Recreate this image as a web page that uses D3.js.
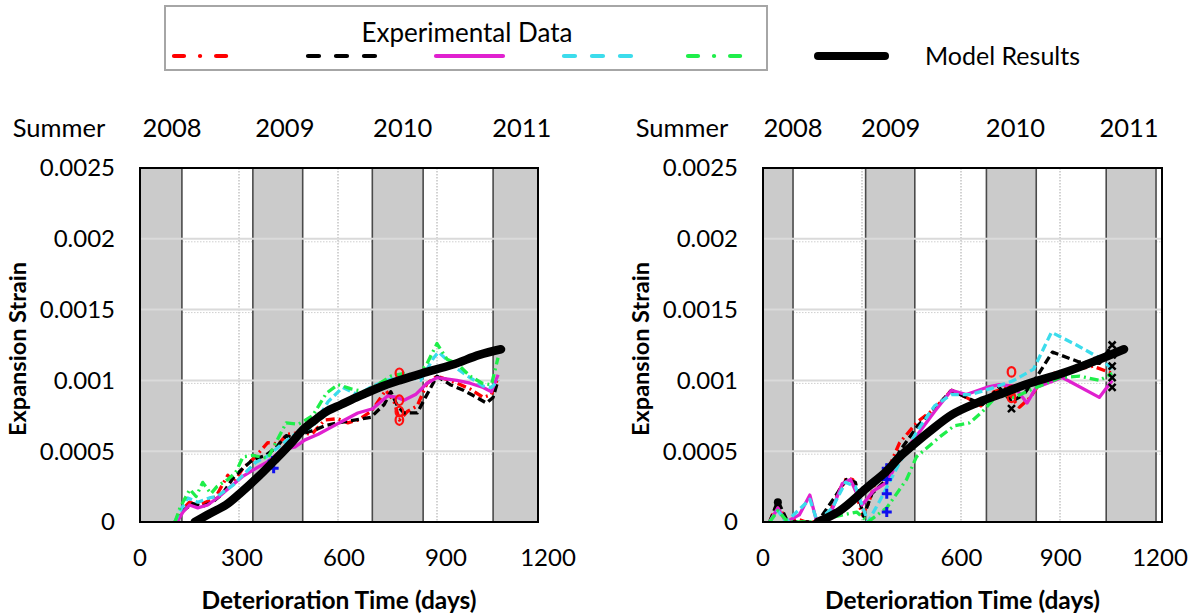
<!DOCTYPE html>
<html><head><meta charset="utf-8">
<script src="https://cdn.jsdelivr.net/npm/d3@7"></script>
<style>
body{margin:0;background:#fff}
svg{display:block}
text{font-family:Lato,"Open Sans",sans-serif;fill:#000}
</style>
</head><body>
<svg id="c" width="1199" height="615"></svg>
<script>
// ---------------- DATA ----------------
const xTicks = [0, 300, 600, 900, 1200];
const yTicks = [0, 0.0005, 0.001, 0.0015, 0.002, 0.0025];
const yTickLabels = ["0", "0.0005", "0.001", "0.0015", "0.002", "0.0025"];
const gridDays = [300, 600, 900];
const yearLabels = ["2008", "2009", "2010", "2011"];
const leftYearDays = [97, 439, 796, 1157];
const rightYearDays = [91, 387, 765, 1109];
const leftSummerBands = [[0, 127], [342, 493], [704, 858], [1070, 1206]];
const rightSummerBands = [[0, 91], [311, 460], [677, 828], [1040, 1191]];
const seriesKeys = ["red", "black", "magenta", "cyan", "green"];
const legendTitle = "Experimental Data";
const modelLabel = "Model Results";

// Left panel experimental series: [day, strain]
const leftRed = [[105,0],[125,0.00008],[150,0.00014],[175,0.00012],[200,0.00014],[230,0.00018],[266,0.00033],[285,0.00028],[312,0.00038],[345,0.00045],[387,0.00056],[420,0.00055],[445,0.00062],[480,0.00063],[520,0.00062],[560,0.00072],[600,0.00073],[630,0.0007],[660,0.00072],[700,0.00078],[745,0.00093],[770,0.00085],[786,0.00072],[810,0.00078],[840,0.00082],[870,0.00098],[900,0.00103],[950,0.00099],[1000,0.00094],[1040,0.00088],[1065,0.0009],[1085,0.00102]];
const leftBlack = [[110,0],[130,0.00008],[160,0.00013],[190,0.00011],[220,0.00014],[250,0.0002],[282,0.00031],[312,0.00038],[342,0.00044],[380,0.00047],[410,0.00052],[443,0.00061],[470,0.00059],[500,0.00063],[530,0.00065],[560,0.00068],[600,0.0007],[650,0.00072],[700,0.00074],[740,0.00083],[760,0.00092],[780,0.00082],[800,0.00077],[840,0.00077],[865,0.00088],[900,0.00103],[940,0.00097],[980,0.00093],[1020,0.00088],[1050,0.00084],[1070,0.00088],[1085,0.001]];
const leftMagenta = [[112,0],[130,0.00007],[150,0.00012],[175,0.0001],[205,0.00012],[240,0.00018],[275,0.00025],[310,0.00032],[345,0.00037],[390,0.00043],[430,0.00051],[470,0.00053],[500,0.00058],[540,0.00062],[580,0.00067],[620,0.00072],[660,0.00077],[705,0.0008],[750,0.00089],[780,0.00088],[800,0.00086],[835,0.0009],[870,0.00098],[900,0.00102],[960,0.001],[1000,0.00098],[1040,0.00095],[1065,0.00092],[1085,0.00104]];
const leftCyan = [[105,0],[122,0.00008],[145,0.00017],[175,0.00014],[210,0.00017],[233,0.00018],[282,0.00026],[320,0.00035],[350,0.00042],[390,0.00047],[430,0.00055],[470,0.00062],[523,0.00067],[570,0.00085],[614,0.00095],[660,0.0009],[705,0.00096],[750,0.001],[800,0.00104],[850,0.001],[890,0.00116],[905,0.0012],[950,0.0011],[1000,0.00102],[1040,0.00096],[1065,0.00095],[1085,0.001]];
const leftGreen = [[106,0],[121,0.0001],[151,0.00023],[170,0.00018],[190,0.00028],[215,0.0002],[233,0.00025],[266,0.0003],[290,0.00035],[312,0.00046],[342,0.00047],[387,0.00045],[443,0.0007],[480,0.00069],[523,0.00075],[565,0.00091],[600,0.00097],[640,0.00094],[680,0.00092],[720,0.00097],[760,0.00103],[800,0.00105],[840,0.00103],[870,0.00112],[900,0.00126],[930,0.00115],[960,0.00112],[1000,0.00103],[1037,0.00098],[1065,0.00097],[1085,0.00116]];
const leftModel = [[166,0],[212,0.00006],[260,0.00012],[302,0.0002],[363,0.00033],[414,0.00045],[463,0.00057],[493,0.00065],[530,0.00072],[565,0.00078],[610,0.00083],[656,0.00088],[725,0.00095],[786,0.001],[855,0.00105],[946,0.00111],[1028,0.00118],[1094,0.00122]];

// Right panel experimental series
const rightRed = [[20,0],[45,0.00014],[70,0],[105,0.00002],[130,0],[165,0],[200,0.00005],[230,0.00022],[253,0.00031],[272,0.0003],[300,0.00005],[318,0.00012],[340,0.00028],[375,0.00035],[414,0.00056],[469,0.00071],[520,0.0008],[571,0.00093],[616,0.00088],[660,0.00082],[700,0.00092],[740,0.00095],[753,0.00088],[777,0.00081],[810,0.00088],[850,0.00102],[880,0.00105],[950,0.00108],[1000,0.0011],[1058,0.00105]];
const rightBlack = [[20,0],[45,0.00015],[75,0],[130,0],[165,0],[210,0.00015],[253,0.0003],[280,0.00028],[305,0.00004],[330,0.0002],[375,0.0003],[414,0.0005],[469,0.00068],[520,0.0008],[571,0.00093],[616,0.00088],[665,0.00083],[716,0.00095],[753,0.00085],[790,0.0009],[828,0.00102],[877,0.0012],[958,0.00113],[1020,0.00112],[1058,0.00125]];
const rightMagenta = [[20,0],[45,0.0001],[70,0],[110,0.00005],[142,0.00019],[163,0],[200,0.00003],[240,0.00027],[265,0.0003],[300,0.00012],[335,0.00022],[375,0.00028],[414,0.00045],[469,0.00062],[520,0.00078],[571,0.00093],[616,0.0009],[677,0.00095],[716,0.00097],[760,0.00096],[800,0.00084],[828,0.00095],[907,0.00102],[1019,0.00088],[1058,0.001]];
const rightCyan = [[20,0],[45,0.00008],[70,0],[142,0.00016],[165,0],[210,0.0001],[250,0.00028],[280,0.00025],[318,0],[354,0.00015],[414,0.00042],[469,0.00065],[520,0.00082],[571,0.0009],[630,0.0009],[700,0.00095],[760,0.001],[820,0.00108],[874,0.00134],[950,0.00125],[1019,0.00116],[1058,0.00108]];
const rightGreen = [[20,0],[45,0.00008],[75,0],[150,0],[242,0.00005],[284,0.00007],[318,0],[375,0.0001],[435,0.0003],[465,0.00046],[535,0.0006],[580,0.00068],[626,0.0007],[665,0.00078],[716,0.00091],[760,0.00088],[828,0.00095],[900,0.00102],[960,0.00103],[1020,0.001],[1058,0.00105]];
const rightModel = [[166,0],[233,0.00008],[314,0.00024],[375,0.00036],[414,0.00046],[453,0.00054],[505,0.00064],[574,0.00076],[647,0.00084],[716,0.0009],[807,0.00098],[907,0.00105],[1010,0.00114],[1094,0.00122]];

// markers
const leftCircles = [[786,0.00105],[786,0.00086],[786,0.00078],[786,0.00072]];
const leftPluses = [[405,0.00038],[402,0.00043]];
const rightCircles = [[753,0.00106],[753,0.00093],[753,0.00088]];
const rightPluses = [[375,0.00038],[375,0.0003],[375,0.0002],[375,0.00007]];
const rightCrosses = [[753,0.0008],[1058,0.00125],[1058,0.00118],[1058,0.0011],[1058,0.00102],[1058,0.00095]];
const rightDots = [[45,0.00014]];

// ---------------- STYLE / LAYOUT ----------------
const styles = {
  red:     {color:"#ff0000", dash:"9,4,2,4", legendDash:"10,16,0.1,16", legendX:207},
  black:   {color:"#000000", dash:"8,4",     legendDash:"11,17",        legendX:341},
  magenta: {color:"#e021cf", dash:null,      legendDash:null,           legendX:469},
  cyan:    {color:"#3cdcec", dash:"8,4",     legendDash:"11,17",        legendX:597},
  green:   {color:"#1fee4a", dash:"9,4,2,4", legendDash:"10,16,0.1,16", legendX:721}
};

const svg = d3.select("#c");
const T = 168, B = 522;

function panel(opts){
  const {L, R, labelR, id, series, model, bands, yearDays, circles, pluses, crosses, dots} = opts;
  const x = d3.scaleLinear().domain([0,1200]).range([L, L+396]);
  const xl = d3.scaleLinear().domain([0,1200]).range([L, labelR]);
  const y = d3.scaleLinear().domain([0,0.0025]).range([B, T]);
  const g = svg.append("g");
  g.append("defs").append("clipPath").attr("id", id)
    .append("rect").attr("x", L).attr("y", T).attr("width", R-L).attr("height", B-T);

  g.append("rect").attr("x",L).attr("y",T).attr("width",R-L).attr("height",B-T).attr("fill","#fff");
  g.selectAll(".vd").data(gridDays).join("line")
    .attr("x1",d=>x(d)).attr("x2",d=>x(d)).attr("y1",T).attr("y2",B)
    .attr("stroke","#c4c4c4").attr("stroke-width",1.5).attr("stroke-dasharray","1.5,1.5");
  g.selectAll(".hd").data(yTicks.slice(1,5)).join("line")
    .attr("x1",L).attr("x2",R).attr("y1",d=>y(d)+3).attr("y2",d=>y(d)+3)
    .attr("stroke","#cfcfcf").attr("stroke-width",1).attr("stroke-dasharray","1.5,1.5");
  const bg = g.append("g").attr("clip-path",`url(#${id})`);
  bg.selectAll("rect").data(bands).join("rect")
    .attr("x",d=>x(d[0])).attr("width",d=>Math.min(x(d[1]),R)-x(d[0]))
    .attr("y",T).attr("height",B-T).attr("fill","#cbcbcb");
  g.selectAll(".hg").data(yTicks.slice(1,5)).join("line")
    .attr("x1",L).attr("x2",R).attr("y1",d=>y(d)).attr("y2",d=>y(d))
    .attr("stroke","#dadada").attr("stroke-width",2);
  const edges = [];
  bands.forEach(b=>{ edges.push(b[0]); edges.push(b[1]); });
  bg.selectAll("line").data(edges.filter(e=>x(e)>L+1 && x(e)<R-1)).join("line")
    .attr("x1",d=>x(d)).attr("x2",d=>x(d)).attr("y1",T).attr("y2",B)
    .attr("stroke","#4a4a4a").attr("stroke-width",1.6);

  const line = d3.line().x(d=>x(d[0])).y(d=>y(d[1]));
  const sg = g.append("g").attr("clip-path",`url(#${id})`);
  series.forEach((s,i)=>{
    const st = styles[seriesKeys[i]];
    sg.append("path").datum(s).attr("d",line).attr("fill","none")
      .attr("stroke",st.color).attr("stroke-width",3.3)
      .attr("stroke-dasharray",st.dash).attr("stroke-linejoin","round");
  });
  sg.selectAll(".circ").data(circles).join("ellipse")
    .attr("cx",d=>x(d[0])).attr("cy",d=>y(d[1])).attr("rx",3.8).attr("ry",4.8)
    .attr("fill","none").attr("stroke","#ff1010").attr("stroke-width",2.2);
  pluses.forEach(p=>{
    const cx=x(p[0]), cy=y(p[1]);
    sg.append("path").attr("d",`M${cx-5},${cy}H${cx+5}M${cx},${cy-5}V${cy+5}`)
      .attr("stroke","#1010ee").attr("stroke-width",3);
  });
  crosses.forEach(p=>{
    const cx=x(p[0]), cy=y(p[1]);
    sg.append("path").attr("d",`M${cx-3.5},${cy-3.5}L${cx+3.5},${cy+3.5}M${cx-3.5},${cy+3.5}L${cx+3.5},${cy-3.5}`)
      .attr("stroke","#000").attr("stroke-width",2.5);
  });
  sg.selectAll(".dot").data(dots).join("circle")
    .attr("cx",d=>x(d[0])).attr("cy",d=>y(d[1])).attr("r",4).attr("fill","#000");
  sg.append("path").datum(model)
    .attr("d",d3.line().x(d=>x(d[0])).y(d=>y(d[1])).curve(d3.curveCatmullRom.alpha(0.5)))
    .attr("fill","none").attr("stroke","#000").attr("stroke-width",8.5)
    .attr("stroke-linecap","round").attr("stroke-linejoin","round");

  g.append("rect").attr("x",L).attr("y",T).attr("width",R-L).attr("height",B-T)
    .attr("fill","none").attr("stroke","#000").attr("stroke-width",2);

  g.selectAll(".yl").data(yTicks).join("text")
    .attr("x",L-25).attr("y",d=>y(d)).attr("dy","0.35em").attr("text-anchor","end")
    .attr("font-size",24).text((d,i)=>yTickLabels[i]);
  g.selectAll(".xl").data(xTicks).join("text")
    .attr("x",d=>xl(d)).attr("y",558).attr("dy","0.35em").attr("text-anchor","middle")
    .attr("font-size",24).text(d=>d);
  g.append("text").attr("x",(L+R)/2).attr("y",600).attr("dy","0.35em").attr("text-anchor","middle")
    .attr("font-size",24.5).attr("font-weight","bold").text("Deterioration Time (days)");
  g.append("text").attr("transform",`translate(${L-122},349) rotate(-90)`).attr("dy","0.35em")
    .attr("text-anchor","middle").attr("font-size",23.5).attr("font-weight","bold").text("Expansion Strain");
  g.append("text").attr("x",L-81).attr("y",128).attr("dy","0.35em").attr("text-anchor","middle")
    .attr("font-size",25.5).text("Summer");
  g.selectAll(".yr").data(yearLabels).join("text")
    .attr("x",(d,i)=>x(yearDays[i])).attr("y",128).attr("dy","0.35em").attr("text-anchor","middle")
    .attr("font-size",25.5).text(d=>d);
}

panel({L:140, R:538, labelR:548, id:"clipL",
  series:[leftRed,leftBlack,leftMagenta,leftCyan,leftGreen], model:leftModel,
  bands:leftSummerBands, yearDays:leftYearDays,
  circles:leftCircles, pluses:leftPluses, crosses:[], dots:[]});
panel({L:763, R:1162, labelR:1160, id:"clipR",
  series:[rightRed,rightBlack,rightMagenta,rightCyan,rightGreen], model:rightModel,
  bands:rightSummerBands, yearDays:rightYearDays,
  circles:rightCircles, pluses:rightPluses, crosses:rightCrosses, dots:rightDots});

// ---------------- LEGEND ----------------
const lg = svg.append("g");
lg.append("rect").attr("x",165).attr("y",6).attr("width",602).attr("height",64)
  .attr("fill","#fff").attr("stroke","#a6a6a6").attr("stroke-width",2);
lg.append("text").attr("x",467).attr("y",33).attr("dy","0.35em").attr("text-anchor","middle")
  .attr("font-size",26).text(legendTitle);
lg.selectAll(".ll").data(seriesKeys).join("line")
  .attr("x1",d=>styles[d].legendX-33).attr("x2",d=>styles[d].legendX+34).attr("y1",56).attr("y2",56)
  .attr("stroke",d=>styles[d].color).attr("stroke-width",4.2).attr("stroke-linecap","round")
  .attr("stroke-dasharray",d=>styles[d].legendDash);
lg.append("line").attr("x1",818).attr("x2",885).attr("y1",56).attr("y2",56)
  .attr("stroke","#000").attr("stroke-width",8).attr("stroke-linecap","round");
lg.append("text").attr("x",925).attr("y",56).attr("dy","0.35em").attr("font-size",25).text(modelLabel);
</script>
</body></html>
